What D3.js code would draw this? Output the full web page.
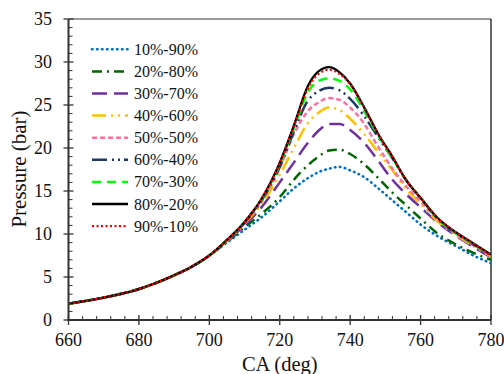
<!DOCTYPE html>
<html><head><meta charset="utf-8">
<script src="https://cdn.jsdelivr.net/npm/d3@7"></script>
<style>html,body{margin:0;padding:0;background:#fff;} svg{display:block;}</style>
</head><body>
<svg id="chart" width="504" height="374"></svg>
<script>
// ---- data ----
const crankAngle = [660, 670, 680, 690, 695, 700, 705, 710, 715, 720, 724, 728, 731, 734, 737, 740, 744, 748, 752, 756, 760, 765, 770, 775, 780];
const seriesNames = ["10%-90%", "20%-80%", "30%-70%", "40%-60%", "50%-50%", "60%-40%", "70%-30%", "80%-20%", "90%-10%"];
const p10_90 = [1.9, 2.6, 3.6, 5.2, 6.2, 7.5, 9.0, 10.5, 12.0, 13.8, 15.3, 16.5, 17.2, 17.6, 17.8, 17.4, 16.6, 15.3, 13.9, 12.5, 11.1, 9.7, 8.6, 7.5, 6.6];
const p20_80 = [1.9, 2.6, 3.6, 5.2, 6.2, 7.5, 9.1, 10.8, 12.4, 14.3, 16.3, 18.0, 19.0, 19.7, 19.8, 19.3, 18.1, 16.5, 14.8, 13.3, 11.8, 10.0, 8.8, 7.8, 7.0];
const p30_70 = [1.9, 2.6, 3.6, 5.2, 6.2, 7.5, 9.2, 11.0, 13.2, 16.0, 18.3, 20.6, 22.0, 22.8, 22.8, 22.1, 20.6, 18.5, 16.3, 14.6, 13.1, 11.3, 9.8, 8.5, 7.3];
const p40_60 = [1.9, 2.6, 3.6, 5.2, 6.2, 7.5, 9.2, 11.2, 13.6, 16.9, 20.0, 22.9, 24.1, 24.7, 24.4, 23.4, 21.6, 19.5, 17.4, 15.2, 13.5, 11.4, 9.9, 8.6, 7.4];
const p50_50 = [1.9, 2.6, 3.6, 5.2, 6.2, 7.5, 9.3, 11.3, 13.9, 17.7, 21.6, 24.3, 25.3, 25.8, 25.6, 24.7, 22.8, 20.1, 17.6, 15.5, 13.8, 11.6, 10.0, 8.7, 7.5];
const p60_40 = [1.9, 2.6, 3.6, 5.2, 6.2, 7.5, 9.3, 11.3, 14.0, 17.8, 21.9, 25.5, 26.6, 27.0, 26.7, 25.7, 23.7, 21.2, 18.8, 16.2, 14.2, 11.7, 10.1, 8.8, 7.5];
const p70_30 = [1.9, 2.6, 3.6, 5.2, 6.2, 7.5, 9.3, 11.4, 14.1, 18.1, 22.3, 26.5, 27.8, 28.1, 27.8, 26.8, 24.3, 21.4, 18.8, 16.2, 14.2, 11.7, 10.1, 8.8, 7.5];
const p80_20 = [1.9, 2.6, 3.6, 5.2, 6.2, 7.5, 9.3, 11.4, 14.2, 18.3, 22.6, 27.2, 28.9, 29.4, 28.8, 27.5, 24.7, 21.6, 19.0, 16.2, 14.2, 11.8, 10.2, 8.9, 7.6];
const p90_10 = [1.9, 2.6, 3.6, 5.2, 6.2, 7.5, 9.3, 11.4, 14.2, 18.2, 22.5, 26.9, 28.6, 29.1, 28.6, 27.4, 24.7, 21.6, 19.0, 16.2, 14.2, 11.8, 10.2, 8.9, 7.5];
const xTicks = [660, 680, 700, 720, 740, 760, 780];
const yTicks = [0, 5, 10, 15, 20, 25, 30, 35];

// ---- styles ----
const styles = [
  {color: "#0070C0", dash: "0.5 4.5", width: 2.6, cap: "round"},
  {color: "#006400", dash: "10 5 2 5", width: 2.5, cap: "butt"},
  {color: "#7030A0", dash: "15 7", width: 2.5, cap: "butt"},
  {color: "#FFC000", dash: "14 5 2 5 2 5", width: 2.5, cap: "butt"},
  {color: "#FF6FA0", dash: "5 3", width: 2.5, cap: "butt"},
  {color: "#1F3864", dash: "15 5 2 4 2 4", width: 2.5, cap: "butt"},
  {color: "#00FF00", dash: "9 6", width: 2.5, cap: "butt"},
  {color: "#000000", dash: null, width: 2.3, cap: "butt"},
  {color: "#FF0000", dash: "2 2.5", width: 2.2, cap: "butt"}
];
const seriesValues = [p10_90, p20_80, p30_70, p40_60, p50_50, p60_40, p70_30, p80_20, p90_10];

const svg = d3.select("#chart");
const L = 68.5, R = 491, T = 19, B = 320;
const x = d3.scaleLinear().domain([660, 780]).range([L, R]);
const y = d3.scaleLinear().domain([0, 35]).range([B, T]);
const font = "'Liberation Serif','Times New Roman',serif";

// clip
svg.append("defs").append("clipPath").attr("id", "clip")
  .append("rect").attr("x", L).attr("y", T).attr("width", R - L).attr("height", B - T);

// frame top/right
svg.append("line").attr("x1", L).attr("x2", R).attr("y1", T).attr("y2", T).attr("stroke", "#777").attr("stroke-width", 1.5);
svg.append("line").attr("x1", R).attr("x2", R).attr("y1", T).attr("y2", B).attr("stroke", "#000").attr("stroke-width", 1.2);

// lines
const line = d3.line().curve(d3.curveMonotoneX);
const g = svg.append("g").attr("clip-path", "url(#clip)");
seriesValues.forEach((vals, i) => {
  const st = styles[i];
  g.append("path")
    .attr("d", line(crankAngle.map((c, j) => [x(c), y(vals[j])])))
    .attr("fill", "none").attr("stroke", st.color).attr("stroke-width", st.width)
    .attr("stroke-linecap", st.cap)
    .attr("stroke-dasharray", st.dash);
});

// axes
const xMinor = d3.range(660, 781, 4).filter(v => v % 20 !== 0);
const yMinor = d3.range(0, 36, 1).filter(v => v % 5 !== 0);
const ax = svg.append("g");
ax.selectAll(".xmin").data(xMinor).join("line")
  .attr("x1", d => x(d)).attr("x2", d => x(d)).attr("y1", B).attr("y2", B - 4)
  .attr("stroke", "#333").attr("stroke-width", 1);
ax.selectAll(".ymin").data(yMinor).join("line")
  .attr("y1", d => y(d)).attr("y2", d => y(d)).attr("x1", L).attr("x2", L + 4)
  .attr("stroke", "#333").attr("stroke-width", 1);
ax.selectAll(".xmaj").data(xTicks).join("line")
  .attr("x1", d => x(d)).attr("x2", d => x(d)).attr("y1", B + 5).attr("y2", B - 5)
  .attr("stroke", "#333").attr("stroke-width", 1.3);
ax.selectAll(".ymaj").data(yTicks).join("line")
  .attr("y1", d => y(d)).attr("y2", d => y(d)).attr("x1", L - 5).attr("x2", L + 5)
  .attr("stroke", "#333").attr("stroke-width", 1.3);
ax.append("line").attr("x1", L).attr("x2", L).attr("y1", T).attr("y2", B + 1).attr("stroke", "#333").attr("stroke-width", 2);
ax.append("line").attr("x1", L - 1).attr("x2", R).attr("y1", B).attr("y2", B).attr("stroke", "#333").attr("stroke-width", 2);

ax.selectAll(".xl").data(xTicks).join("text")
  .attr("x", d => x(d)).attr("y", 346).attr("text-anchor", "middle")
  .attr("font-family", font).attr("font-size", 18).attr("fill", "#111").text(d => d);
ax.selectAll(".yl").data(yTicks).join("text")
  .attr("x", 52).attr("y", d => y(d) + 6).attr("text-anchor", "end")
  .attr("font-family", font).attr("font-size", 18).attr("fill", "#111").text(d => d);

svg.append("text").attr("x", (L + R) / 2).attr("y", 370.5).attr("text-anchor", "middle")
  .attr("font-family", font).attr("font-size", 20.5).attr("fill", "#111").text("CA (deg)");
svg.append("text").attr("transform", "translate(26,169) rotate(-90)").attr("text-anchor", "middle")
  .attr("font-family", font).attr("font-size", 21).attr("fill", "#111").text("Pressure (bar)");

// legend
const leg = svg.append("g");
seriesNames.forEach((name, i) => {
  const st = styles[i];
  const cy = 49.3 + 22.1 * i;
  leg.append("line").attr("x1", 92).attr("x2", 128).attr("y1", cy).attr("y2", cy)
    .attr("stroke", st.color).attr("stroke-width", st.width)
    .attr("stroke-linecap", st.cap).attr("stroke-dasharray", st.dash);
  leg.append("text").attr("x", 134).attr("y", cy + 5.5)
    .attr("font-family", font).attr("font-size", 16).attr("fill", "#111").text(name);
});
</script>
</body></html>
